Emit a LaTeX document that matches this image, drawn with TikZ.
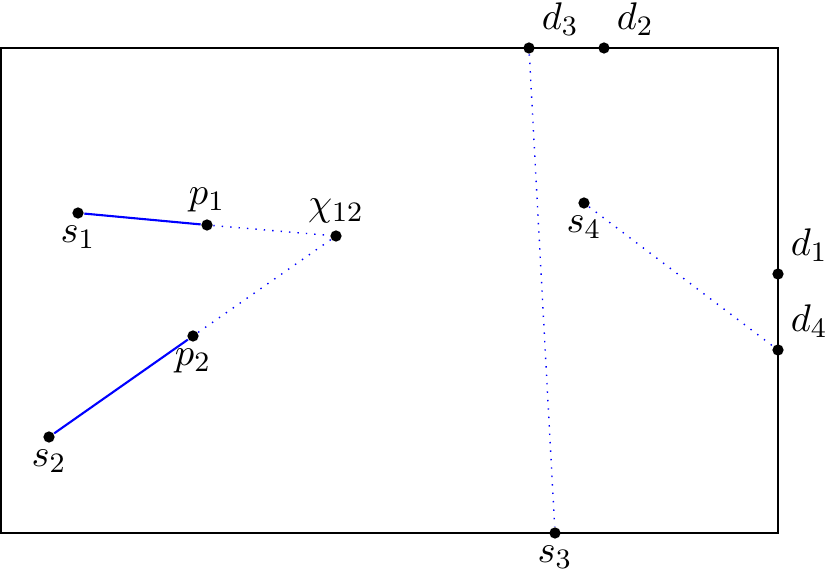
\documentclass[tikz,border=0pt]{standalone}

\tikzset{
  pt/.style={circle, fill, inner sep=0pt, minimum size=3.2pt},
  tag/.style={label distance=-1.6pt},
  every label/.style={font=\fontsize{11}{13}\selectfont},
  path/.style={blue, semithick},
  guess/.style={blue, dotted}
}

\begin{document}
\begin{tikzpicture}[x=0.01cm, y=-0.01cm]
  \useasboundingbox (0,0) rectangle (830,576);

  % Frame
  \coordinate (nw) at (1,48);
  \coordinate (se) at (778,533);
  \draw[semithick] (nw) rectangle (se);

  % Define nodes
  \node[pt, label={[tag]below:$s_1$}] (s1) at (78,213) {};
  \node[pt, label={[tag]above:$p_1$}] (p1) at (207,225) {};
  \node[pt, label={[tag]above:$\chi_{12}$}] (chi) at (336,236) {};
  \node[pt, label={[tag]below:$p_2$}] (p2) at (193,336) {};
  \node[pt, label={[tag]below:$s_2$}] (s2) at (49,437) {};

  \node[pt, label={[tag]above right:$d_3$}] (d3) at (529,48) {};
  \node[pt, label={[tag]above right:$d_2$}] (d2) at (604,48) {};
  \node[pt, label={[tag]below:$s_3$}] (s3) at (555,533) {};
  \node[pt, label={[tag]below:$s_4$}] (s4) at (584,203) {};
  \node[pt, label={[tag]above right:$d_1$}] (d1) at (778,274) {};
  \node[pt, label={[tag]above right:$d_4$}] (d4) at (778,350) {};

  % Connect the nodes
  \draw[path] (s1) -- (p1);
  \draw[path] (s2) -- (p2);
  \draw[guess] (p1) -- (chi);
  \draw[guess] (p2) -- (chi);
  \draw[guess] (d3) -- (s3);
  \draw[guess] (s4) -- (d4);
\end{tikzpicture}
\end{document}
